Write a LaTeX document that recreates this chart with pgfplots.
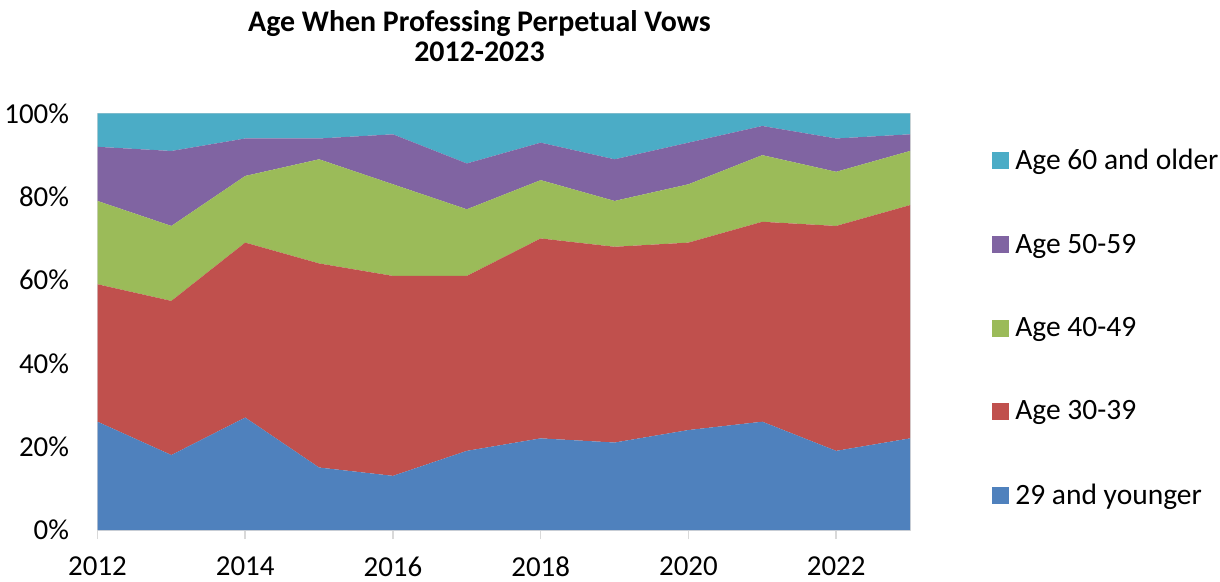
\documentclass[border=0pt]{standalone}
\usepackage{fontspec}
\setmainfont{Carlito}
\usepackage{pgfplots}
\pgfplotsset{compat=1.18}
\usepackage{pgfplotstable}
\definecolor{cyoung}{HTML}{4F81BD}
\definecolor{cthirty}{HTML}{C0504D}
\definecolor{cforty}{HTML}{9BBB59}
\definecolor{cfifty}{HTML}{8064A2}
\definecolor{csixty}{HTML}{4BACC6}
\definecolor{frame}{HTML}{D9D9D9}

% share of professions per age group, percent
\pgfplotstableread{
year young a30 a40 a50 a60
2012 26 33 20 13 8
2013 18 37 18 18 9
2014 27 42 16 9 6
2015 15 49 25 5 6
2016 13 48 22 12 5
2017 19 42 16 11 12
2018 22 48 14 9 7
2019 21 47 11 10 11
2020 24 45 14 10 7
2021 26 48 16 7 3
2022 19 54 13 8 6
2023 22 56 13 4 5
}\vows

\begin{document}
\begin{tikzpicture}[x=1bp,y=1bp]
\useasboundingbox (0,0) rectangle (610,290.5);
\node[font=\fontsize{15}{15}\selectfont\bfseries,align=center] at (239.75,272.5)
  {Age When Professing Perpetual Vows\\2012-2023};
\begin{axis}[at={(48.75bp,25.5bp)},anchor=south west,
  width=406.25bp,height=208.25bp,scale only axis,
  xmin=2012,xmax=2023,ymin=0,ymax=100,
  stack plots=y,
  xtick={2012,2014,...,2022},ytick={0,20,...,100},
  yticklabel={\pgfmathprintnumber{\tick}\%},
  /pgf/number format/1000 sep={},
  /pgf/number format/assume math mode=true,
  tick label style={font=\fontsize{14.5}{17}\selectfont},
  tick align=outside,tick pos=left,
  major tick length=4.5bp,
  y tick style={draw=none},
  x tick style={frame,line width=0.8pt},
  axis line style={frame,line width=0.8pt},
  yticklabel style={xshift=-6.25bp},
  xticklabel style={inner sep=0pt,text depth=0pt,yshift=-8.8bp},
  legend style={at={(1.1009,0.92)},anchor=north west,draw=none,fill=none,
    inner sep=0pt,font=\fontsize{14.8}{17}\selectfont,
    nodes={inner sep=1bp},row sep=28.6bp,
    /tikz/every odd column/.append style={column sep=2bp}},
  legend cell align=left,reverse legend,
  legend image code/.code={\fill[#1] (0bp,-4.25bp) rectangle (8.5bp,4.25bp);},
]
\addplot[fill=cyoung,draw=none] table[x=year,y=young]{\vows} \closedcycle;
\addlegendentry{29 and younger}
\addplot[fill=cthirty,draw=none] table[x=year,y=a30]{\vows} \closedcycle;
\addlegendentry{Age 30-39}
\addplot[fill=cforty,draw=none] table[x=year,y=a40]{\vows} \closedcycle;
\addlegendentry{Age 40-49}
\addplot[fill=cfifty,draw=none] table[x=year,y=a50]{\vows} \closedcycle;
\addlegendentry{Age 50-59}
\addplot[fill=csixty,draw=none] table[x=year,y=a60]{\vows} \closedcycle;
\addlegendentry{Age 60 and older}
\end{axis}
\end{tikzpicture}
\end{document}
